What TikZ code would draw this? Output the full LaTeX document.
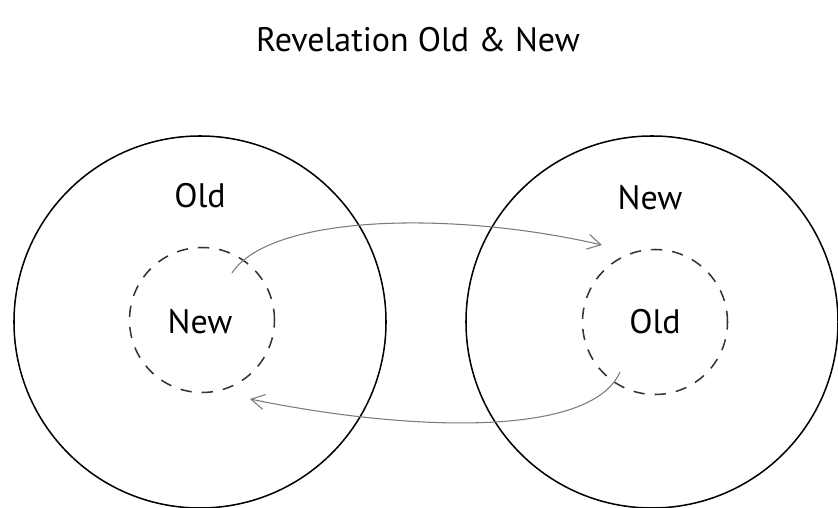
\documentclass[tikz,border=0pt]{standalone}
\usepackage{fontspec}
\setmainfont{PT Sans}
\usetikzlibrary{arrows.meta}
\definecolor{flowgray}{HTML}{7A7A7A}

\begin{document}
\begin{tikzpicture}[
  x=0.03cm,
  y=-0.03cm,
  line join=round,
  big/.style={circle,draw=black,line width=1.3pt,minimum size=11.16cm,inner sep=0pt},
  inner/.style={circle,draw=black!80,line width=1.3pt,dash pattern=on 3.4mm off 3mm,minimum size=4.35cm,inner sep=0pt},
  label/.style={font=\fontsize{29}{34}\selectfont,text=black},
  flow/.style={draw=flowgray,line width=0.9pt,-{Straight Barb[length=4mm,width=4.5mm]}}
]
  \useasboundingbox (0,0) rectangle (838,508);

  % Title.
  \node[label] (title) at (418,40) {Revelation Old \& New};

  % The two revelations and their inner kernels.
  \node[big] (oldbig) at (200,322) {};
  \node[big] (newbig) at (652,322) {};
  \node[inner] (newin) at (202,320) {};
  \node[inner] (oldin) at (655,322) {};

  \node[label] (oldtxt) at (200,196) {Old};
  \node[label] (newtxtL) at (200,322) {New};
  \node[label] (newtxt) at (650,198) {New};
  \node[label] (oldtxtR) at (655,322) {Old};

  % Ends of the exchange arrows.
  \coordinate (upstart) at (232,273);
  \coordinate (upend) at (602,245);
  \coordinate (lowstart) at (620,372);
  \coordinate (lowend) at (250,399);

  \draw[flow] (upstart) .. controls (270,215) and (450,210) .. (upend);
  \draw[flow] (lowstart) .. controls (590,440) and (400,430) .. (lowend);
\end{tikzpicture}
\end{document}
